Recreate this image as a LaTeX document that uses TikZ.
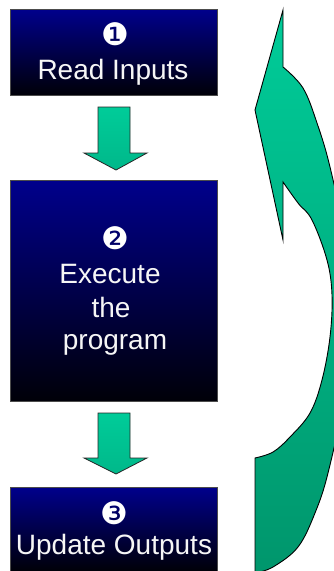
\documentclass[tikz,border=0pt]{standalone}
\usepackage{fontspec}
\setmainfont{Liberation Sans}
\newfontfamily\dingfont{DejaVu Sans}
\begin{document}
\begin{tikzpicture}[x=1pt,y=-1pt,
  stepbox/.style={draw=gray!60!black,line width=0.8pt,
    top color={rgb,255:red,0;green,0;blue,140},
    bottom color={rgb,255:red,0;green,0;blue,8}},
  flowarrow/.style={draw=black!85,line width=0.8pt,
    top color={rgb,255:red,0;green,204;blue,153},
    bottom color={rgb,255:red,0;green,184;blue,138}},
  looparrow/.style={draw=black,line width=0.9pt,
    top color={rgb,255:red,0;green,204;blue,153},
    bottom color={rgb,255:red,0;green,150;blue,108}},
  label/.style={text=white!93!gray,font=\fontsize{28}{34}\selectfont,anchor=base,inner sep=0pt},
  num/.style={text=white,font=\dingfont\fontsize{31}{31}\selectfont,inner sep=0pt}]
\useasboundingbox (0,0) rectangle (334,571);

% three process boxes
\path[stepbox] (10,9) rectangle (217,95);
\node[minimum width=207pt,minimum height=86pt] (s1) at (113.5,52) {};
\path[stepbox] (10,180) rectangle (217,401);
\node[minimum width=207pt,minimum height=221pt] (s2) at (113.5,290.5) {};
\path[stepbox] (10,487) rectangle (217,571);
\node[minimum width=207pt,minimum height=84pt] (s3) at (113.5,529) {};

% captions
\node[num] (n1) at (115,34) {❶};
\node[label] (t1) at (113,79) {Read Inputs};
\node[num] (n2) at (115,238) {❷};
\node[label] (t2a) at (110,283) {Execute};
\node[label] (t2b) at (111,317) {the};
\node[label] (t2c) at (115,349) {program};
\node[num] (n3) at (114,513) {❸};
\node[label] (t3) at (114,554) {Update Outputs};

% block arrows between the boxes
\path[flowarrow] (98,107) -- (130,107) -- (130,153) -- (147,153) -- (116,170)
  -- (84,153) -- (98,153) -- cycle;
\path[flowarrow] (98,413) -- (130,413) -- (130,458) -- (147,458) -- (116,474)
  -- (84,458) -- (98,458) -- cycle;

% curved return arrow on the right
\begin{scope}
\clip (0,0) rectangle (334,571);
\path[looparrow] (283,10) -- (283,67)
  -- plot[smooth,tension=0.6] coordinates {(283,67) (303,88) (317,123) (330,167)
       (345,240) (350,310) (343,400) (328,473) (315,513) (298,547) (273,567) (255,573)}
  -- (255,458)
  -- plot[smooth,tension=0.6] coordinates {(255,458) (273,452) (290,437) (310,413)
       (322,380) (330,337) (332,295) (327,260) (312,220) (298,203) (283,182)}
  -- (283,240) -- (255,110) -- cycle;
\end{scope}
\end{tikzpicture}
\end{document}
